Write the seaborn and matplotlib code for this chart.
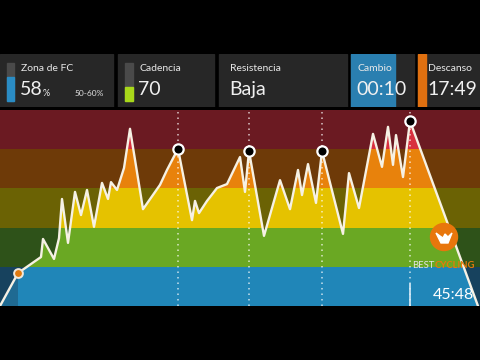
import matplotlib
matplotlib.use('Agg')
import matplotlib.pyplot as plt
import seaborn as sns
import numpy as np
from matplotlib.patches import Polygon, Rectangle, Ellipse

# workout profile: time (min) and intensity zone level (0-5)
minutes = [0, 2.25, 5.125, 5.375, 6.75, 7.375, 7.75, 8.5, 9.375, 10.125, 10.875, 11.75,
           12.75, 13.5, 13.875, 14.625, 15.5, 16.25, 17.875, 20.0, 20.875, 22.25, 24.0,
           24.375, 24.875, 25.875, 27.125, 28.375, 30.0, 30.625, 31.125, 33.0, 35.0,
           36.25, 37.25, 37.75, 38.5, 39.5, 40.25, 42.875, 43.625, 44.875, 46.625,
           47.75, 48.5, 49.125, 49.5, 50.375, 51.25, 59.75]
zone_level = [0, 0.84, 1.25, 1.71, 1.20, 1.73, 2.73, 1.61, 2.91, 2.32, 2.96, 2.02,
              3.14, 2.73, 3.16, 2.96, 3.52, 4.52, 2.47, 3.09, 3.47, 4.01, 2.19,
              2.68, 2.37, 2.68, 3.01, 3.11, 3.80, 2.91, 3.95, 1.79, 3.21,
              2.47, 3.47, 2.83, 3.62, 2.63, 3.95, 1.84, 3.39, 2.50, 4.39,
              3.55, 4.57, 3.60, 4.36, 3.29, 4.72, 0]
peak_times = [22.25, 31.125, 40.25, 51.25]
current_time = 2.25

zone_dark = ['#17425e', '#2e5219', '#6b6204', '#6e3a08', '#6b1a22']
zone_bright = ['#2086b8', '#6aa823', '#e5c200', '#e8820c', '#d8303f']
done_blue = '#1f6a92'

# header panels
panel_labels = ['Zona de FC', 'Cadencia', 'Resistencia', 'Cambio', 'Descanso']
panel_values = ['58', '70', 'Baja', '00:10', '17:49']
fc_fill = 0.62
cad_fill = 0.36
remaining = '45:48'

sns.set_style('dark')
plt.rcParams['font.family'] = ['Lato', 'DejaVu Sans']

fig = plt.figure(figsize=(4.8, 3.6), dpi=100, facecolor='black')

# ---- header ----
hx = fig.add_axes([0, (360 - 107) / 360, 1, 53 / 360])
hx.set_xlim(0, 480)
hx.set_ylim(107, 54)
hx.axis('off')
hx.add_patch(Rectangle((0, 54), 480, 53, color='black'))
boxes = [(0, 113), (118, 214), (219, 347), (351, 414), (418, 480)]
for x0, x1 in boxes:
    hx.add_patch(Rectangle((x0, 54), x1 - x0, 53, color='#272727'))
hx.add_patch(Rectangle((351, 54), 44, 53, color='#2a7fb0'))
hx.add_patch(Rectangle((418, 54), 8, 53, color='#e07010'))
# level bars
hx.add_patch(Rectangle((7, 63), 7, 38, color='#4a4a4a'))
hx.add_patch(Rectangle((7, 101 - 38 * fc_fill), 7, 38 * fc_fill, color='#2a8cc4'))
hx.add_patch(Rectangle((125, 63), 8, 38, color='#4a4a4a'))
hx.add_patch(Rectangle((125, 101 - 38 * cad_fill), 8, 38 * cad_fill, color='#a8d81a'))

text_x = [21, 139, 230, 357, 428]
for lx, lab, val in zip(text_x, panel_labels, panel_values):
    hx.text(lx, 68.5, lab, color='#e8e8e8', fontsize=7.5, va='center', ha='left')
    hx.text(lx - 1, 89.5, val, color='#f0f0f0', fontsize=14, va='center', ha='left')
hx.text(43, 93.5, '%', color='#f0f0f0', fontsize=6.5, va='center', ha='left')
hx.text(104, 93, '50-60%', color='#e0e0e0', fontsize=6, va='center', ha='right')

# ---- profile chart ----
ax = fig.add_axes([0, 54 / 360, 1, 196 / 360])
ax.set_xlim(0, 60)
ax.set_ylim(0, 5)
ax.axis('off')

for i, c in enumerate(zone_dark):
    ax.axhspan(i, i + 1, color=c, lw=0, zorder=0)

under = Polygon(list(zip(minutes, zone_level)), closed=True, transform=ax.transData)
for i, c in enumerate(zone_bright):
    band = ax.fill_between([0, 60], i, i + 1, color=c, lw=0, zorder=1)
    band.set_clip_path(under)
done = ax.fill_between([0, current_time], 0, 1, color=done_blue, lw=0, zorder=1)
done.set_clip_path(under)

for pt in peak_times:
    ax.axvline(pt, color='white', alpha=0.75, lw=1.1, ls=(0, (1, 2.6)), zorder=2)
ax.axvline(peak_times[-1], ymax=0.11, color='#d8ecf8', lw=1.2, zorder=2)

sns.lineplot(x=minutes, y=zone_level, ax=ax, color='#f6f1e4', lw=1.7,
             sort=False, estimator=None, zorder=3)

peak_vals = np.interp(peak_times, minutes, zone_level)
sns.scatterplot(x=peak_times, y=peak_vals, ax=ax, s=55, color='black',
                edgecolor='white', linewidth=1.6, zorder=4)
cur_val = np.interp(current_time, minutes, zone_level)
sns.scatterplot(x=[current_time], y=[cur_val], ax=ax, s=40, color='#e07a10',
                edgecolor='#f0e8dc', linewidth=1.4, zorder=4)

# logo
ax.add_patch(Ellipse((444 / 480, 69 / 196), 27 / 480, 27 / 196, color='#e8760c',
                     transform=ax.transAxes, zorder=5))
crown = [(-8, 4), (-3, -6), (4, -6), (8, 4), (4, 0), (1, 3), (-1, -1), (-4, 1)]
ax.add_patch(Polygon([((444 + px) / 480, (69 + py) / 196) for px, py in crown],
                     closed=True, color='white', transform=ax.transAxes, zorder=6))
ax.text(412 / 480, 41 / 196, 'BEST', color='#e4e4e4', fontsize=6.8,
        transform=ax.transAxes, va='center', ha='left', zorder=6)
ax.text(435 / 480, 41 / 196, 'CYCLING', color='#e8780e', fontsize=6.8, fontweight='bold',
        transform=ax.transAxes, va='center', ha='left', zorder=6)
ax.text(474 / 480, 11 / 196, remaining, color='white', fontsize=11.5,
        transform=ax.transAxes, va='center', ha='right', zorder=6)

fig.savefig('out.png', dpi=100, facecolor='black')
